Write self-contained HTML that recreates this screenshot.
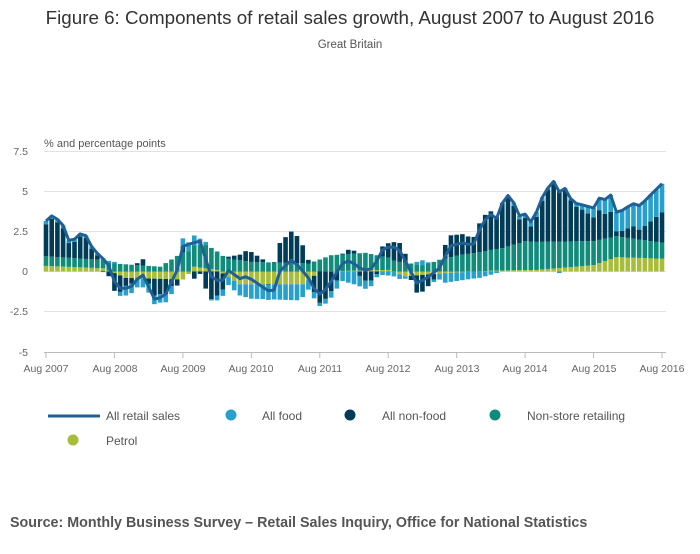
<!DOCTYPE html>
<html><head><meta charset="utf-8"><style>
body{margin:0;background:#fff;width:700px;height:549px;overflow:hidden;font-family:"Liberation Sans",sans-serif}
</style></head><body>
<svg id="s" width="700" height="549" xmlns="http://www.w3.org/2000/svg" font-family="Liberation Sans, sans-serif">
<text x="350" y="24" text-anchor="middle" font-size="18.8" fill="#333">Figure 6: Components of retail sales growth, August 2007 to August 2016</text>
<text x="350" y="48" text-anchor="middle" font-size="11.5" fill="#555">Great Britain</text>
<text x="44" y="147" font-size="11" fill="#555">% and percentage points</text>
<g font-size="10.5" fill="#666" text-anchor="end">
<text x="28" y="155">7.5</text><text x="28" y="195">5</text><text x="28" y="235">2.5</text>
<text x="28" y="275">0</text><text x="28" y="315">-2.5</text><text x="28" y="356">-5</text>
</g>
<g stroke="#e2e2e2" stroke-width="1">
<line x1="44" x2="666" y1="151.5" y2="151.5"/><line x1="44" x2="666" y1="191.5" y2="191.5"/>
<line x1="44" x2="666" y1="231.5" y2="231.5"/><line x1="44" x2="666" y1="271.5" y2="271.5"/>
<line x1="44" x2="666" y1="311.5" y2="311.5"/>
</g>
<g id="bars"></g>
<path id="ln" fill="none" stroke="#206095" stroke-width="3" stroke-linejoin="round"/>
<line x1="44" x2="666" y1="352.5" y2="352.5" stroke="#bbb"/>
<g id="ticks" stroke="#bbb"></g>
<g font-size="10.5" fill="#666" text-anchor="middle">
<text x="46" y="372">Aug 2007</text><text x="115" y="372">Aug 2008</text><text x="183" y="372">Aug 2009</text>
<text x="251" y="372">Aug 2010</text><text x="320" y="372">Aug 2011</text><text x="388" y="372">Aug 2012</text>
<text x="457" y="372">Aug 2013</text><text x="525" y="372">Aug 2014</text><text x="594" y="372">Aug 2015</text>
<text x="662" y="372">Aug 2016</text>
</g>
<g font-size="12" fill="#555">
<line x1="48" x2="100" y1="416" y2="416" stroke="#206095" stroke-width="3"/>
<text x="106" y="420">All retail sales</text>
<circle cx="231" cy="415" r="5.5" fill="#27a0cc"/><text x="262" y="420">All food</text>
<circle cx="350" cy="415" r="5.5" fill="#003c57"/><text x="382" y="420">All non-food</text>
<circle cx="495" cy="415" r="5.5" fill="#118c7b"/><text x="527" y="420">Non-store retailing</text>
<circle cx="73" cy="440" r="5.5" fill="#a8bd3a"/><text x="106" y="445">Petrol</text>
</g>
<text x="10" y="527" font-size="14.3" font-weight="bold" fill="#555">Source: Monthly Business Survey – Retail Sales Inquiry, Office for National Statistics</text>
</svg>
<script>
var P=[[45,3.1],[53,3.55],[63,2.9],[70,1.75],[80,2.35],[85,2.35],[93,1.4],[108,0.5],[117,-1.05],[130,-1.05],[142,-0.1],[155,-1.8],[165,-1.5],[177,0.05],[183,1.6],[200,1.9],[212,-0.45],[222,-0.65],[228,0.1],[240,-0.45],[247,-0.3],[273,-1.4],[280,0.05],[292,0.75],[307,-0.25],[318,-1.5],[327,-1.05],[342,0.5],[350,0.7],[363,0.05],[373,0.2],[383,1.4],[392,1.6],[400,1.3],[417,-0.75],[427,-0.4],[440,0.25],[450,1.6],[463,1.8],[473,1.6],[482,3.0],[490,3.6],[497,3.3],[503,4.4],[508,4.75],[513,4.4],[520,3.4],[525,3.6],[532,3.0],[543,4.75],[553,5.7],[560,4.9],[565,5.2],[573,4.3],[587,4.1],[593,3.9],[598,4.6],[605,4.5],[610,4.9],[617,3.6],[623,3.85],[633,4.25],[640,4.1],[650,4.75],[663,5.55]];
function f(x){if(x<=P[0][0])return P[0][1];for(var i=1;i<P.length;i++){if(x<=P[i][0]){var a=P[i-1],b=P[i];return a[1]+(b[1]-a[1])*(x-a[0])/(b[0]-a[0]);}}return P[P.length-1][1];}
function L(pts,x){for(var i=1;i<pts.length;i++){if(x<=pts[i][0]){var a=pts[i-1],b=pts[i];return a[1]+(b[1]-a[1])*(x-a[0])/(b[0]-a[0]);}}return pts[pts.length-1][1];}
var pet=[[0,0.35],[10,0.2],[14,-0.4],[24,-0.5],[26,0.3],[30,0.1],[34,-0.8],[45,-0.8],[48,0],[60,0.1],[63,-0.3],[70,-0.1],[78,0.05],[86,0.1],[96,0.4],[100,0.9],[108,0.8]];
var ns=[[0,0.6],[12,0.5],[20,0.3],[24,1.2],[28,1.5],[32,0.8],[36,0.6],[46,0.5],[50,1.0],[56,1.1],[62,0.6],[66,0.4],[72,1.0],[80,1.4],[84,1.8],[92,1.6],[96,1.5],[100,1.3],[108,1.0]];
var fd=[[0,0.2],[12,0.1],[14,-0.6],[22,-0.5],[24,0.5],[26,0.6],[30,-0.3],[36,-0.9],[44,-1.0],[48,-0.2],[54,-0.8],[58,-0.2],[62,-0.3],[66,0.3],[70,-0.6],[76,-0.4],[82,0.2],[86,0.3],[90,-0.1],[94,0.3],[96,0.6],[100,1.2],[108,1.8]];
var xs=function(i){return 46+i*616/108;},ys=function(v){return 271.5-v*16;};
var cols={pet:"#a8bd3a",ns:"#118c7b",fd:"#27a0cc",nf:"#003c57"};
var g="",d="";
for(var i=0;i<=108;i++){var x=xs(i),t=f(x);var c={pet:L(pet,i),ns:L(ns,i),fd:L(fd,i)};c.nf=t-c.pet-c.ns-c.fd;
var up=0,dn=0;["pet","ns","nf","fd"].forEach(function(k){var v=c[k];if(v>=0){g+='<rect x="'+(x-2.3)+'" y="'+ys(up+v)+'" width="4.6" height="'+(v*16)+'" fill="'+cols[k]+'"/>';up+=v;}else{g+='<rect x="'+(x-2.3)+'" y="'+ys(dn)+'" width="4.6" height="'+(-v*16)+'" fill="'+cols[k]+'"/>';dn+=v;}});
d+=(i?"L":"M")+x.toFixed(1)+","+ys(t).toFixed(1);}
document.getElementById("bars").innerHTML=g;document.getElementById("ln").setAttribute("d",d);
var tk="";for(var y=0;y<=9;y++){var x=46+y*616/9;tk+='<line x1="'+x+'" x2="'+x+'" y1="352" y2="358"/>';}
document.getElementById("ticks").innerHTML=tk;
</script>
</body></html>
